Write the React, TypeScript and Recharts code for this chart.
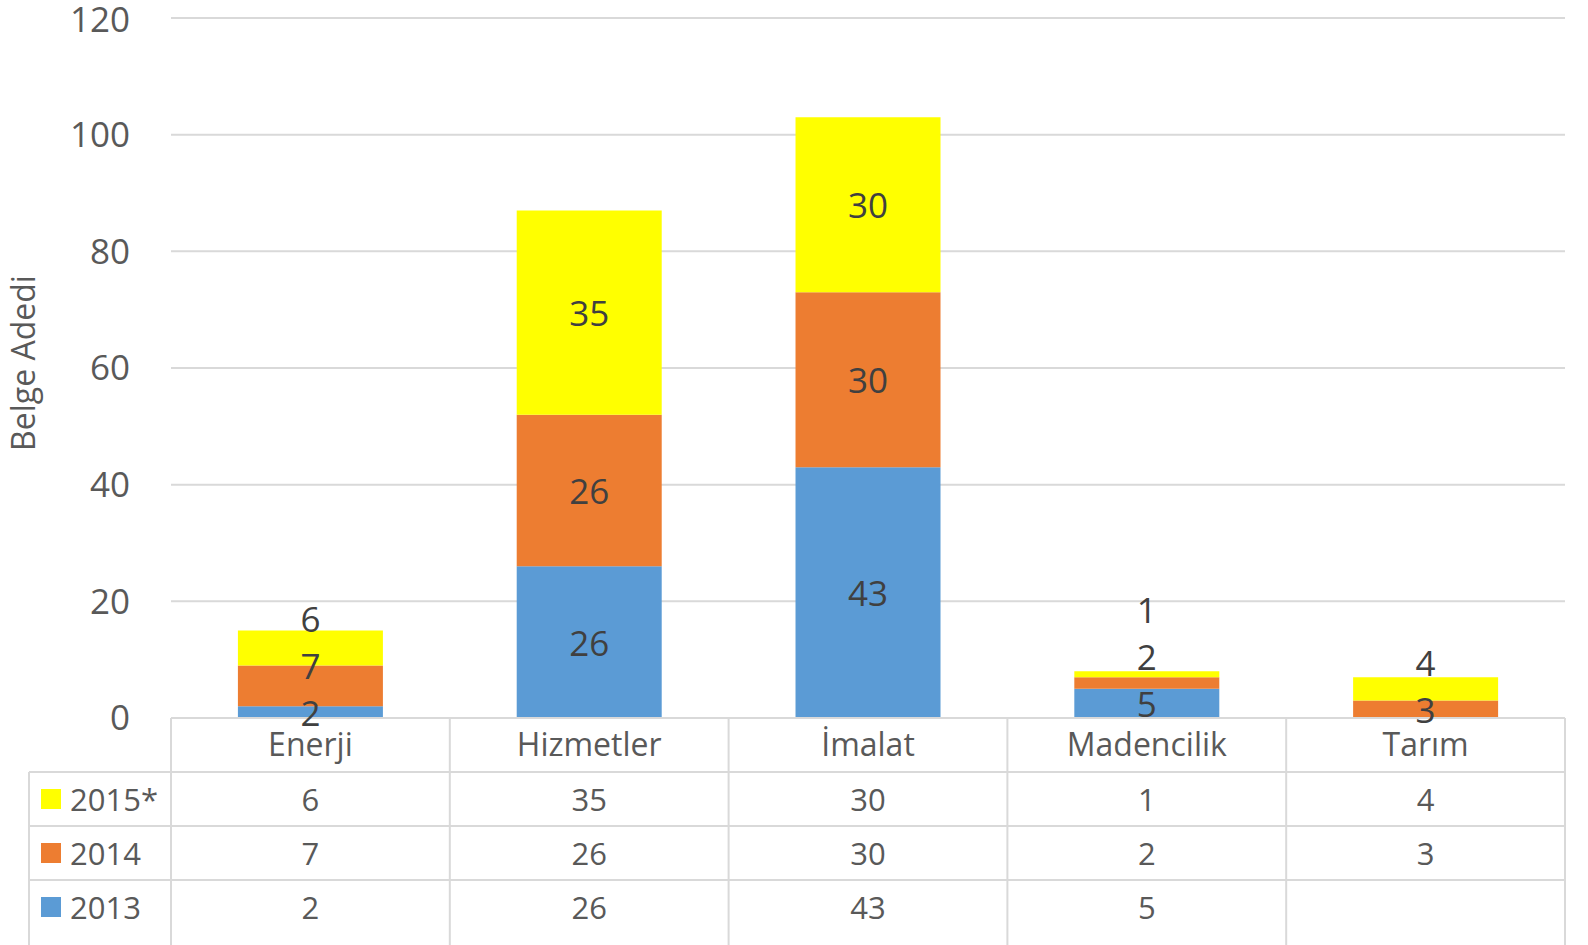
import { Bar, BarChart, CartesianGrid, LabelList, XAxis, YAxis } from "recharts"

// Sektörlere göre belge adedi
const categories = ["Enerji", "Hizmetler", "İmalat", "Madencilik", "Tarım"]
const y2013 = [2, 26, 43, 5, null]
const y2014 = [7, 26, 30, 2, 3]
const y2015 = [6, 35, 30, 1, 4]
const yTicks = [0, 20, 40, 60, 80, 100, 120]

// bottom-up stack order
const series = [
  { key: "y2013", name: "2013", values: y2013, color: "#5B9BD5" },
  { key: "y2014", name: "2014", values: y2014, color: "#ED7D31" },
  { key: "y2015", name: "2015*", values: y2015, color: "#FFFF00" },
]

const data = categories.map((cat, i) => ({
  cat,
  y2013: y2013[i],
  y2014: y2014[i],
  y2015: y2015[i],
}))

// page has an 8px default margin; drop it so the chart sits at 0,0
if (typeof document !== "undefined") {
  document.body.style.margin = "0"
  document.body.style.overflow = "hidden"
}

const W = 1588
const H = 945
const PLOT_LEFT = 171
const PLOT_RIGHT = 1565
const PLOT_TOP = 18
const PLOT_BOTTOM = 718
const ROW_H = 54
const TABLE_LEFT = 29
const FONT = "'Open Sans', sans-serif"
const TEXT = "#595959"
const GRID = "#D9D9D9"
const LABEL_GAP = 47

// Excel-like labels: centred in the segment, pushed up when they would collide
const renderLabel = (k: number) => (props: any) => {
  const { x, y, width, height, value, index } = props
  if (!value) return null
  const vals = series.map((s) => s.values[index] ?? 0)
  const ppu = height / value
  const below = vals.slice(0, k).reduce((a, b) => a + b, 0)
  const bottom = y + height + below * ppu
  let pos: number | null = null
  let cum = 0
  for (let j = 0; j <= k; j++) {
    if (vals[j] > 0) {
      const c = bottom - (cum + vals[j] / 2) * ppu
      pos = pos == null ? c : Math.min(c, pos - LABEL_GAP)
      cum += vals[j]
    }
  }
  return (
    <text
      x={x + width / 2}
      y={pos as number}
      textAnchor="middle"
      dominantBaseline="central"
      fontSize={35}
      fontFamily={FONT}
      fill="#404040"
    >
      {value}
    </text>
  )
}

function DataTable() {
  const colW = (PLOT_RIGHT - PLOT_LEFT) / categories.length
  const rows = [...series].reverse()
  const cols = categories.map((_, i) => PLOT_LEFT + i * colW)
  return (
    <svg
      width={W}
      height={H}
      style={{ position: "absolute", left: 0, top: 0, pointerEvents: "none" }}
    >
      {[...cols, PLOT_RIGHT].map((cx, i) => (
        <line key={"v" + i} x1={cx} x2={cx} y1={PLOT_BOTTOM} y2={H} stroke={GRID} strokeWidth={2} />
      ))}
      <line x1={TABLE_LEFT} x2={TABLE_LEFT} y1={PLOT_BOTTOM + ROW_H} y2={H} stroke={GRID} strokeWidth={2} />
      {rows.map((_, r) => (
        <line
          key={"h" + r}
          x1={TABLE_LEFT}
          x2={PLOT_RIGHT}
          y1={PLOT_BOTTOM + ROW_H * (r + 1)}
          y2={PLOT_BOTTOM + ROW_H * (r + 1)}
          stroke={GRID}
          strokeWidth={2}
        />
      ))}
      {rows.map((s, r) => {
        const cy = PLOT_BOTTOM + ROW_H * (r + 1) + ROW_H / 2
        return (
          <g key={s.key}>
            <rect x={41} y={cy - 10} width={20} height={20} fill={s.color} />
            <text x={70} y={cy} dominantBaseline="central" fontSize={31} fontFamily={FONT} fill={TEXT}>
              {s.name}
            </text>
            {s.values.map((v, i) => (
              <text
                key={i}
                x={cols[i] + colW / 2}
                y={cy}
                textAnchor="middle"
                dominantBaseline="central"
                fontSize={31}
                fontFamily={FONT}
                fill={TEXT}
              >
                {v ?? ""}
              </text>
            ))}
          </g>
        )
      })}
    </svg>
  )
}

export default function App() {
  return (
    <div style={{ position: "relative", width: W, height: H, background: "#fff", overflow: "hidden" }}>
      <BarChart
        width={W}
        height={H}
        data={data}
        margin={{ top: PLOT_TOP, right: W - PLOT_RIGHT, left: 0, bottom: 0 }}
        barCategoryGap="24%"
      >
        <CartesianGrid vertical={false} stroke={GRID} strokeWidth={2} />
        <XAxis
          dataKey="cat"
          height={H - PLOT_BOTTOM}
          axisLine={{ stroke: GRID, strokeWidth: 2 }}
          tickLine={false}
          tickMargin={9}
          tick={{ fontSize: 32, fill: TEXT, fontFamily: FONT }}
        />
        <YAxis
          width={PLOT_LEFT}
          domain={[0, 120]}
          ticks={yTicks}
          axisLine={false}
          tickLine={false}
          tickMargin={35}
          tick={{ fontSize: 35, fill: TEXT, fontFamily: FONT }}
          label={{
            value: "Belge Adedi",
            angle: -90,
            position: "insideLeft",
            offset: 24,
            dy: -5,
            style: { fontSize: 32, fill: TEXT, fontFamily: FONT, textAnchor: "middle" },
          }}
        />
        {series.map((s, k) => (
          <Bar
            key={s.key}
            dataKey={s.key}
            name={s.name}
            stackId="a"
            fill={s.color}
            isAnimationActive={false}
          >
            <LabelList dataKey={s.key} content={renderLabel(k)} />
          </Bar>
        ))}
      </BarChart>
      <DataTable />
    </div>
  )
}
